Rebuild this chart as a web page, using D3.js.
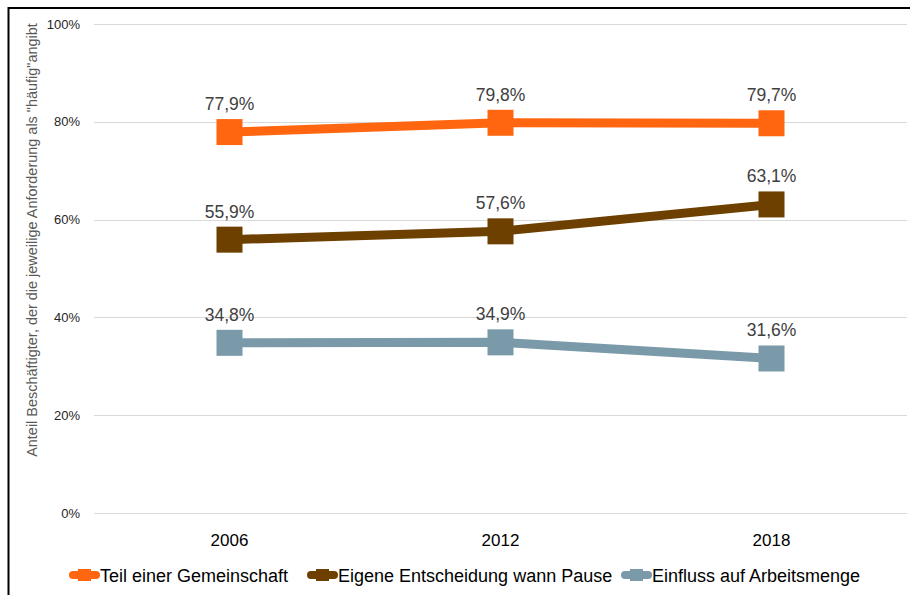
<!DOCTYPE html>
<html>
<head>
<meta charset="utf-8">
<script src="https://cdn.jsdelivr.net/npm/d3@7"></script>
<style>
  html, body { margin: 0; padding: 0; background: #fff; }
  svg { display: block; }
  text { font-family: "Liberation Sans", Arial, sans-serif; }
</style>
</head>
<body>
<svg id="chart" width="910" height="595"></svg>
<script>
// Survey years
const years = ["2006", "2012", "2018"];
// Share of employees reporting each demand as "frequent" (%)
const teilGemeinschaft = [77.9, 79.8, 79.7];
const eigenePause = [55.9, 57.6, 63.1];
const einflussMenge = [34.8, 34.9, 31.6];
const seriesNames = ["Teil einer Gemeinschaft", "Eigene Entscheidung wann Pause", "Einfluss auf Arbeitsmenge"];
const seriesColors = ["#FF660F", "#6E4000", "#7A9AA9"];
const yTicks = [0, 20, 40, 60, 80, 100];

const series = [teilGemeinschaft, eigenePause, einflussMenge].map((values, i) => ({
  name: seriesNames[i], color: seriesColors[i], values
}));

const svg = d3.select("#chart");

// outer frame
svg.append("rect")
  .attr("x", 8.5).attr("y", 8).attr("width", 910).attr("height", 600)
  .attr("fill", "none").attr("stroke", "#000").attr("stroke-width", 2);

const plot = { left: 94, right: 907, top: 24, bottom: 513 };

const x = d3.scaleBand().domain(years).range([plot.left, plot.right]);
const y = d3.scaleLinear().domain([0, 100]).range([plot.bottom, plot.top]);

// horizontal gridlines + y tick labels
svg.append("g").selectAll("line").data(yTicks).join("line")
  .attr("x1", plot.left).attr("x2", plot.right)
  .attr("y1", d => Math.round(y(d)) + 0.5).attr("y2", d => Math.round(y(d)) + 0.5)
  .attr("stroke", "#D9D9D9").attr("stroke-width", 1);
const yAxis = d3.axisLeft(y).tickValues(yTicks).tickFormat(d => d + "%").tickSize(0).tickPadding(14);
const gy = svg.append("g").attr("transform", `translate(${plot.left},0)`).call(yAxis);
gy.select(".domain").remove();
gy.selectAll("text").attr("font-size", 13).attr("fill", "#262626")
  .attr("font-family", '"Liberation Sans", Arial, sans-serif');

// x axis labels
const xAxis = d3.axisBottom(x).tickSize(0).tickPadding(21);
const gx = svg.append("g").attr("transform", `translate(0,${plot.bottom})`).call(xAxis);
gx.select(".domain").remove();
gx.selectAll("text").attr("font-size", 17).attr("fill", "#000")
  .attr("font-family", '"Liberation Sans", Arial, sans-serif');

// y axis title, sized to run the full plot height
const title = svg.append("text")
  .attr("transform", `translate(37,240) rotate(-90)`)
  .attr("text-anchor", "middle")
  .attr("font-size", 12).attr("fill", "#595959")
  .text('Anteil Beschäftigter, der die jeweilige Anforderung als "häufig"angibt');
const tl = title.node().getComputedTextLength();
title.attr("font-size", 12 * 434 / tl);

const cx = d => x(d) + x.bandwidth() / 2;
const line = d3.line().x((d, i) => cx(years[i])).y(d => y(d));

const g = svg.append("g");
series.forEach(s => {
  g.append("path").attr("d", line(s.values))
    .attr("fill", "none").attr("stroke", s.color).attr("stroke-width", 9);
  g.selectAll(null).data(s.values).join("rect")
    .attr("x", (d, i) => cx(years[i]) - 13).attr("y", d => y(d) - 13)
    .attr("width", 26).attr("height", 26).attr("fill", s.color);
  g.selectAll(null).data(s.values).join("text")
    .attr("x", (d, i) => cx(years[i])).attr("y", d => y(d) - 22)
    .attr("text-anchor", "middle").attr("font-size", 17.5).attr("fill", "#404040")
    .text(d => d.toFixed(1).replace(".", ",") + "%");
});

// legend
const legendX = [69, 307, 621];
const lg = svg.append("g").attr("transform", "translate(0,575)");
series.forEach((s, i) => {
  const item = lg.append("g").attr("transform", `translate(${legendX[i]},0)`);
  item.append("line").attr("x1", 4).attr("x2", 27).attr("y1", 0).attr("y2", 0)
    .attr("stroke", s.color).attr("stroke-width", 8).attr("stroke-linecap", "round");
  item.append("rect").attr("x", 9).attr("y", -6).attr("width", 13).attr("height", 12).attr("fill", s.color);
  item.append("text").attr("x", 31).attr("y", 7).attr("font-size", 18).attr("fill", "#000")
    .text(s.name);
});
</script>
</body>
</html>
